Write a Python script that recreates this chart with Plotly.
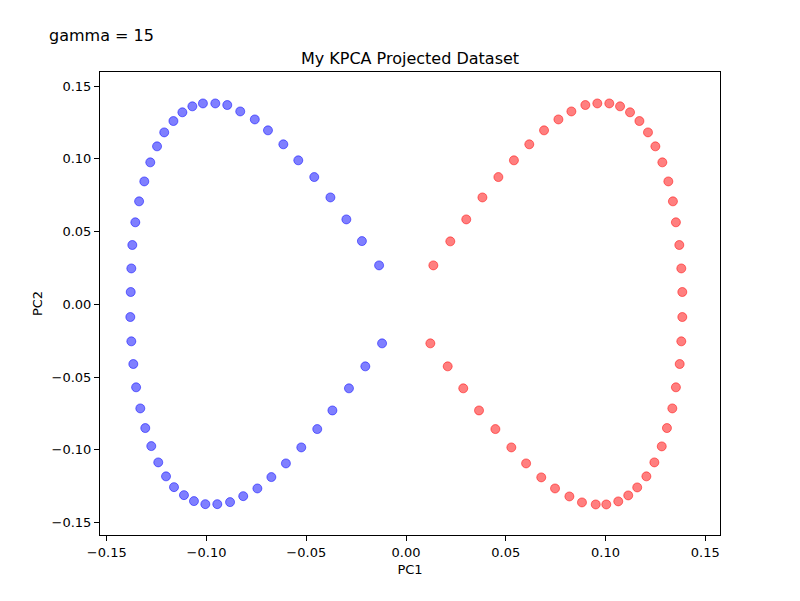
import plotly.graph_objects as go

# blue class (upper arc then lower arc)
blue_pc1 = [-0.1380, -0.1377, -0.1372, -0.1357, -0.1338, -0.1312, -0.1282, -0.1248, -0.1212, -0.1166,
            -0.1121, -0.1071, -0.1018, -0.0956, -0.0896, -0.0831, -0.0758, -0.0692, -0.0615, -0.0540,
            -0.0460, -0.0379, -0.0299, -0.0221, -0.0135,
            -0.1382, -0.1377, -0.1367, -0.1353, -0.1332, -0.1307, -0.1277, -0.1242, -0.1203, -0.1163,
            -0.1113, -0.1063, -0.1006, -0.0946, -0.0882, -0.0816, -0.0745, -0.0675, -0.0602, -0.0525,
            -0.0445, -0.0369, -0.0286, -0.0204, -0.0120]
blue_pc2 = [0.0085, 0.0247, 0.0408, 0.0564, 0.0708, 0.0845, 0.0976, 0.1086, 0.1182, 0.1260,
            0.1320, 0.1361, 0.1381, 0.1381, 0.1370, 0.1326, 0.1271, 0.1196, 0.1100, 0.0990,
            0.0875, 0.0735, 0.0584, 0.0435, 0.0268,
            -0.0087, -0.0254, -0.0410, -0.0570, -0.0715, -0.0850, -0.0974, -0.1086, -0.1182, -0.1256,
            -0.1311, -0.1352, -0.1373, -0.1373, -0.1359, -0.1318, -0.1265, -0.1187, -0.1093, -0.0983,
            -0.0857, -0.0729, -0.0577, -0.0426, -0.0268]

# red class
red_pc1 = [0.0137, 0.0222, 0.0302, 0.0383, 0.0463, 0.0541, 0.0618, 0.0692, 0.0764, 0.0829,
           0.0899, 0.0959, 0.1019, 0.1073, 0.1123, 0.1170, 0.1213, 0.1250, 0.1285, 0.1315,
           0.1338, 0.1353, 0.1370, 0.1380, 0.1385,
           0.0122, 0.0209, 0.0287, 0.0366, 0.0448, 0.0528, 0.0602, 0.0678, 0.0747, 0.0819,
           0.0882, 0.0951, 0.1004, 0.1064, 0.1114, 0.1159, 0.1205, 0.1245, 0.1282, 0.1308,
           0.1335, 0.1353, 0.1372, 0.1380, 0.1385]
red_pc2 = [0.0268, 0.0433, 0.0584, 0.0735, 0.0875, 0.0990, 0.1100, 0.1196, 0.1271, 0.1326,
           0.1370, 0.1381, 0.1381, 0.1361, 0.1320, 0.1260, 0.1182, 0.1086, 0.0976, 0.0845,
           0.0708, 0.0564, 0.0408, 0.0247, 0.0085,
           -0.0268, -0.0426, -0.0577, -0.0729, -0.0857, -0.0983, -0.1093, -0.1189, -0.1265, -0.1320,
           -0.1361, -0.1375, -0.1375, -0.1354, -0.1313, -0.1258, -0.1182, -0.1086, -0.0976, -0.0850,
           -0.0715, -0.0570, -0.0410, -0.0254, -0.0087]

xticks = [-0.15, -0.10, -0.05, 0.00, 0.05, 0.10, 0.15]
xtick_labels = ["\u22120.15", "\u22120.10", "\u22120.05", "0.00", "0.05", "0.10", "0.15"]
yticks = [-0.15, -0.10, -0.05, 0.00, 0.05, 0.10, 0.15]
ytick_labels = ["\u22120.15", "\u22120.10", "\u22120.05", "0.00", "0.05", "0.10", "0.15"]

FONT = "DejaVu Sans"

fig = go.Figure()

fig.add_trace(go.Scatter(
    x=blue_pc1, y=blue_pc2, mode="markers", name="blue",
    marker=dict(size=9, color="rgba(0,0,255,0.5)",
                line=dict(width=1, color="rgba(0,0,255,0.5)"))))

fig.add_trace(go.Scatter(
    x=red_pc1, y=red_pc2, mode="markers", name="red",
    marker=dict(size=9, color="rgba(255,0,0,0.5)",
                line=dict(width=1, color="rgba(255,0,0,0.5)"))))

axis_style = dict(showgrid=False, zeroline=False, showline=True, mirror=True,
                  linecolor="black", linewidth=1, ticks="outside", ticklen=5,
                  tickcolor="black", tickfont=dict(family=FONT, size=13, color="black"))

fig.update_xaxes(range=[-0.1534, 0.1574], tickvals=xticks, ticktext=xtick_labels,
                 title=dict(text="PC1", font=dict(family=FONT, size=13, color="black"), standoff=6),
                 **axis_style)
fig.update_yaxes(range=[-0.1585, 0.1597], tickvals=yticks, ticktext=ytick_labels,
                 title=dict(text="PC2", font=dict(family=FONT, size=13, color="black"), standoff=6),
                 **axis_style)

# page body adds an 8px offset, margins are set so the box lands where the reference has it
fig.update_layout(
    width=800, height=601,
    margin=dict(l=92, r=88, t=64, b=74),
    plot_bgcolor="white", paper_bgcolor="white",
    showlegend=False,
    title=dict(text="My KPCA Projected Dataset", x=(410 - 8) / 800, xanchor="center",
               y=1 - 50 / 601, yanchor="middle",
               font=dict(family=FONT, size=16, color="black")),
    annotations=[dict(text="gamma = 15", xref="paper", yref="paper",
                      x=-0.0855, y=1.078, xanchor="left", yanchor="middle",
                      showarrow=False, font=dict(family=FONT, size=16, color="black"))],
)

fig.write_html("out.html")
